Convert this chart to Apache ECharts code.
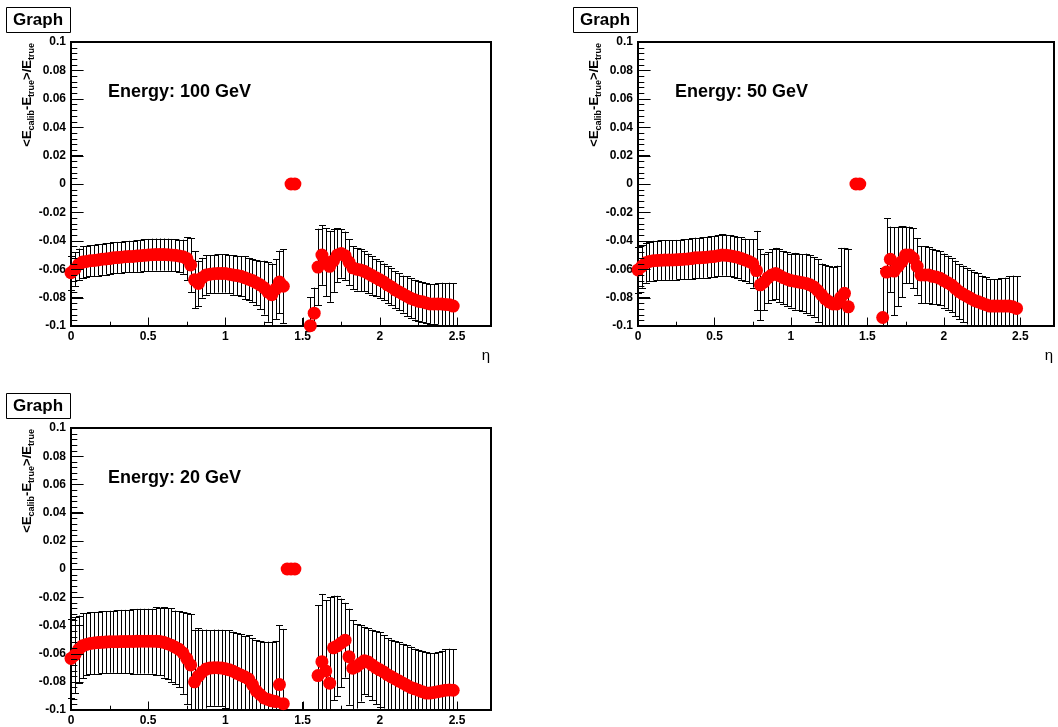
<!DOCTYPE html>
<html><head><meta charset="utf-8">
<script src="https://cdn.jsdelivr.net/npm/echarts@6/dist/echarts.min.js"></script>
<style>html,body{margin:0;padding:0;background:#fff}#c{width:1058px;height:727px}</style>
</head><body><div id="c"></div>
<script>
const logs = [];
window.onerror = function(m){ logs.push('ERR ' + m); };
// eta bin positions
const eta = [0.000,0.025,0.050,0.075,0.100,0.125,0.150,0.175,0.200,0.225,
0.250,0.275,0.300,0.325,0.350,0.375,0.400,0.425,0.450,0.475,
0.500,0.525,0.550,0.575,0.600,0.625,0.650,0.675,0.700,0.725,
0.750,0.775,0.800,0.825,0.850,0.875,0.900,0.925,0.950,0.975,
1.000,1.025,1.050,1.075,1.100,1.125,1.150,1.175,1.200,1.225,
1.250,1.275,1.300,1.325,1.350,1.375,1.400,1.425,1.450,1.475,
1.500,1.525,1.550,1.575,1.600,1.625,1.650,1.675,1.700,1.725,
1.750,1.775,1.800,1.825,1.850,1.875,1.900,1.925,1.950,1.975,
2.000,2.025,2.050,2.075,2.100,2.125,2.150,2.175,2.200,2.225,
2.250,2.275,2.300,2.325,2.350,2.375,2.400,2.425,2.450,2.475];

const val100 = [-0.0625,-0.0600,-0.0565,-0.0550,-0.0545,-0.0540,-0.0538,-0.0535,-0.0530,-0.0528,
-0.0525,-0.0520,-0.0518,-0.0515,-0.0512,-0.0510,-0.0510,-0.0507,-0.0505,-0.0502,
-0.0500,-0.0498,-0.0497,-0.0497,-0.0497,-0.0498,-0.0500,-0.0502,-0.0507,-0.0512,
-0.0525,-0.0570,-0.0675,-0.0700,-0.0660,-0.0640,-0.0635,-0.0632,-0.0630,-0.0630,
-0.0630,-0.0635,-0.0640,-0.0645,-0.0650,-0.0660,-0.0670,-0.0680,-0.0695,-0.0710,
-0.0730,-0.0760,-0.0780,-0.0740,-0.0690,-0.0720,null,0,0,null,
null,null,-0.0998,-0.0910,-0.0585,-0.0500,-0.0550,-0.0580,-0.0540,-0.0500,
-0.0490,-0.0505,-0.0550,-0.0590,-0.0600,-0.0605,-0.0615,-0.0630,-0.0645,-0.0660,
-0.0675,-0.0690,-0.0710,-0.0725,-0.0745,-0.0760,-0.0775,-0.0790,-0.0805,-0.0815,
-0.0825,-0.0830,-0.0838,-0.0845,-0.0845,-0.0845,-0.0845,-0.0848,-0.0850,-0.0860];
const err100 = [0.012,0.012,0.011,0.011,0.011,0.011,0.011,0.011,0.011,0.011,
0.011,0.011,0.011,0.011,0.011,0.011,0.0112,0.0112,0.0112,0.0112,
0.0113,0.0113,0.0113,0.0113,0.0113,0.0113,0.0113,0.0113,0.0115,0.012,
0.015,0.019,0.020,0.016,0.014,0.014,0.0135,0.0135,0.0135,0.0135,
0.0135,0.0135,0.014,0.014,0.014,0.015,0.015,0.015,0.016,0.017,
0.019,0.021,0.022,0.021,0.022,0.026,0,0,0,0,
0,0,0.020,0.018,0.027,0.021,0.024,0.025,0.022,0.019,
0.017,0.017,0.016,0.015,0.015,0.015,0.014,0.014,0.0135,0.013,
0.013,0.013,0.013,0.013,0.013,0.013,0.013,0.014,0.014,0.014,
0.014,0.014,0.014,0.014,0.014,0.0145,0.015,0.015,0.0155,0.016];

const val50 = [-0.0605,-0.0580,-0.0555,-0.0545,-0.0540,-0.0538,-0.0537,-0.0536,-0.0535,-0.0535,
-0.0534,-0.0532,-0.0530,-0.0528,-0.0525,-0.0520,-0.0520,-0.0518,-0.0515,-0.0512,
-0.0510,-0.0505,-0.0500,-0.0502,-0.0505,-0.0510,-0.0515,-0.0525,-0.0535,-0.0545,
-0.0560,-0.0610,-0.0710,-0.0690,-0.0660,-0.0640,-0.0630,-0.0645,-0.0660,-0.0670,
-0.0680,-0.0685,-0.0690,-0.0695,-0.0700,-0.0710,-0.0725,-0.0750,-0.0780,-0.0810,
-0.0830,-0.0845,-0.0845,-0.0800,-0.0770,-0.0865,null,0,0,null,
null,null,null,null,-0.0940,-0.0620,-0.0530,-0.0613,-0.0580,-0.0547,
-0.0500,-0.0500,-0.0523,-0.0580,-0.0640,-0.0640,-0.0640,-0.0650,-0.0655,-0.0664,
-0.0680,-0.0695,-0.0711,-0.0735,-0.0758,-0.0775,-0.0790,-0.0805,-0.0820,-0.0830,
-0.0840,-0.0850,-0.0860,-0.0860,-0.0860,-0.0860,-0.0860,-0.0860,-0.0865,-0.0876];
const err50 = [0.016,0.015,0.014,0.014,0.014,0.014,0.014,0.014,0.014,0.014,
0.014,0.014,0.014,0.014,0.0142,0.0142,0.0143,0.0143,0.0144,0.0145,
0.0145,0.0145,0.0145,0.0145,0.0145,0.0145,0.0145,0.015,0.015,0.0155,
0.017,0.028,0.025,0.020,0.018,0.018,0.018,0.0185,0.0185,0.019,
0.019,0.020,0.020,0.020,0.021,0.021,0.021,0.022,0.022,0.024,
0.025,0.026,0.027,0.035,0.032,0.041,0,0,0,0,
0,0,0,0,0.035,0.038,0.023,0.031,0.028,0.025,
0.020,0.020,0.021,0.020,0.020,0.020,0.0195,0.0195,0.019,0.019,
0.019,0.019,0.019,0.0195,0.0195,0.020,0.020,0.020,0.020,0.020,
0.0195,0.0195,0.019,0.019,0.019,0.0195,0.020,0.021,0.022,0.0226];

const val20 = [-0.0634,-0.0610,-0.0570,-0.0545,-0.0535,-0.0528,-0.0525,-0.0522,-0.0520,-0.0518,
-0.0516,-0.0516,-0.0516,-0.0515,-0.0515,-0.0514,-0.0514,-0.0513,-0.0512,-0.0512,
-0.0512,-0.0512,-0.0513,-0.0515,-0.0520,-0.0530,-0.0540,-0.0555,-0.0570,-0.0595,
-0.0635,-0.0680,-0.0800,-0.0760,-0.0730,-0.0710,-0.0703,-0.0700,-0.0700,-0.0703,
-0.0708,-0.0715,-0.0725,-0.0740,-0.0752,-0.0765,-0.0780,-0.0820,-0.0865,-0.0890,
-0.0915,-0.0925,-0.0935,-0.0940,-0.0820,-0.0955,0,0,0,null,
null,null,null,null,-0.0756,-0.0657,-0.0723,-0.0810,-0.0559,-0.0545,
-0.0525,-0.0505,-0.0622,-0.0704,-0.0690,-0.0670,-0.0650,-0.0660,-0.0680,-0.0700,
-0.0715,-0.0730,-0.0750,-0.0765,-0.0780,-0.0795,-0.0810,-0.0825,-0.0840,-0.0850,
-0.0860,-0.0870,-0.0880,-0.0880,-0.0875,-0.0870,-0.0865,-0.0860,-0.0858,-0.0860];
const err20 = [0.028,0.027,0.024,0.023,0.022,0.022,0.022,0.022,0.022,0.022,
0.022,0.022,0.0225,0.0225,0.0225,0.0225,0.023,0.023,0.023,0.023,
0.023,0.023,0.024,0.024,0.025,0.025,0.026,0.026,0.027,0.029,
0.0325,0.036,0.037,0.034,0.030,0.028,0.027,0.027,0.027,0.0272,
0.0275,0.028,0.028,0.0285,0.029,0.029,0.031,0.033,0.036,0.038,
0.040,0.041,0.042,0.043,0.042,0.053,0,0,0,0,
0,0,0,0,0.050,0.048,0.050,0.061,0.037,0.0355,
0.0315,0.0265,0.034,0.034,0.030,0.027,0.024,0.024,0.025,0.026,
0.0265,0.026,0.026,0.0265,0.027,0.0275,0.028,0.0285,0.029,0.0285,
0.0285,0.029,0.029,0.0285,0.028,0.028,0.0285,0.029,0.0293,0.029];

const energyLabels = ['Energy: 100 GeV','Energy: 50 GeV','Energy: 20 GeV'];
const xMajorTicks = [0, 0.5, 1, 1.5, 2, 2.5];
const xMinorTicks = [0.25, 0.75, 1.25, 1.75, 2.25];
const yMajorTicks = [-0.1, -0.08, -0.06, -0.04, -0.02, 0, 0.02, 0.04, 0.06, 0.08, 0.1];
const Y_MINOR_DIV = 5;
const X_MIN = 0, X_MAX = 2.72, Y_MIN = -0.1, Y_MAX = 0.1;

const FONT = '"Liberation Sans", Arial, Helvetica, sans-serif';
const panels = [
  {vals: val100, errs: err100, label: energyLabels[0], left: 71, top: 42, width: 420, height: 284, showEta: true},
  {vals: val50,  errs: err50,  label: energyLabels[1], left: 638, top: 42, width: 416, height: 284, showEta: true},
  {vals: val20,  errs: err20,  label: energyLabels[2], left: 71, top: 428, width: 420, height: 284, showEta: false}
];

function fmtY(v){ return String(Number(v.toFixed(3))); }
function fmtX(v){ const r = Number(v.toFixed(3)); return xMajorTicks.indexOf(r) >= 0 ? String(r) : ''; }

// tick rows: [x, y, length, isY]
function buildTicks(){
  const rows = [];
  xMajorTicks.forEach(v => rows.push([v, Y_MIN, 8.5, 0]));
  xMinorTicks.forEach(v => rows.push([v, Y_MIN, 4.3, 0]));
  yMajorTicks.forEach((v, i) => {
    rows.push([X_MIN, v, 12.6, 1]);
    if (i < yMajorTicks.length - 1) {
      const step = (yMajorTicks[i + 1] - v) / Y_MINOR_DIV;
      for (let j = 1; j < Y_MINOR_DIV; j++) rows.push([X_MIN, v + j * step, 6.3, 1]);
    }
  });
  return rows;
}
let tickCalls = 0, barCalls = 0;

const grids = [], xAxes = [], yAxes = [], series = [], graphics = [];
panels.forEach((p, k) => {
  grids.push({left: p.left, top: p.top, width: p.width, height: p.height, show: true,
    borderColor: '#000', borderWidth: 2});
  xAxes.push({gridIndex: k, type: 'value', min: X_MIN, max: X_MAX, interval: 0.5,
    axisLine: {show: false, onZero: false}, splitLine: {show: false},
    axisTick: {show: true, inside: true, length: 8, lineStyle: {color: '#000', width: 1}},
    axisLabel: {show: true, showMaxLabel: false, margin: 5, color: '#000', fontWeight: 'bold', fontSize: 12, fontFamily: FONT, formatter: fmtX}
  });
  yAxes.push({gridIndex: k, type: 'value', min: Y_MIN, max: Y_MAX, interval: 0.02,
    axisLine: {show: false, onZero: false}, splitLine: {show: false},
    axisTick: {show: true, inside: true, length: 12, lineStyle: {color: '#000', width: 1}},
    axisLabel: {show: true, margin: 5, color: '#000', fontWeight: 'bold', fontSize: 12, fontFamily: FONT, formatter: fmtY}
  });
  const pts = [], bars = [];
  eta.forEach((x, i) => {
    if (p.vals[i] === null) return;
    pts.push([x, p.vals[i]]);
    bars.push([x, p.vals[i], p.errs[i]]);
  });
  series.push({type: 'custom', xAxisIndex: k, yAxisIndex: k, clip: false, z: 2,
    data: bars,
    renderItem: function (params, api) {
      barCalls++;
      const x = api.value(0), v = api.value(1), e = api.value(2);
      if (!e) return null;
      const hi = Math.min(v + e, Y_MAX), lo = Math.max(v - e, Y_MIN);
      const t = api.coord([x, hi]), b = api.coord([x, lo]);
      const cx = Math.round(t[0]) + 0.5, c = 3.5;
      const st = {stroke: '#000', lineWidth: 1};
      const ch = [{type: 'line', shape: {x1: cx, y1: t[1], x2: cx, y2: b[1]}, style: st}];
      if (v + e <= Y_MAX) ch.push({type: 'line', shape: {x1: cx - c, y1: Math.round(t[1]) + 0.5, x2: cx + c, y2: Math.round(t[1]) + 0.5}, style: st});
      if (v - e >= Y_MIN) ch.push({type: 'line', shape: {x1: cx - c, y1: Math.round(b[1]) + 0.5, x2: cx + c, y2: Math.round(b[1]) + 0.5}, style: st});
      return {type: 'group', children: ch};
    }
  });
  series.push({type: 'scatter', xAxisIndex: k, yAxisIndex: k, clip: false, z: 3,
    symbol: 'circle', symbolSize: 13, itemStyle: {color: '#ff0000', opacity: 1}, data: pts});
  series.push({type: 'custom', xAxisIndex: k, yAxisIndex: k, clip: false, z: 5,
    data: buildTicks(),
    renderItem: function (params, api) {
      tickCalls++;
      const isY = api.value(3) === 1, len = api.value(2);
      const pt = api.coord([api.value(0), api.value(1)]);
      const st = {stroke: '#000', lineWidth: 1};
      if (!isY) {
        const x = Math.round(pt[0]) + 0.5;
        return {type: 'line', shape: {x1: x, y1: pt[1], x2: x, y2: pt[1] - len}, style: st};
      }
      const y = Math.round(pt[1]) + 0.5;
      return {type: 'line', shape: {x1: pt[0], y1: y, x2: pt[0] + len, y2: y}, style: st};
    }
  });

  const dx = p.left - 71, dy = p.top - 42;
  graphics.push({type: 'rect', shape: {x: 6 + dx + 0.5, y: 7 + dy + 0.5, width: 64, height: 25},
    style: {fill: '#fff', stroke: '#000', lineWidth: 1}, z: 10});
  graphics.push({type: 'text', x: 38 + dx, y: 20 + dy, z: 11,
    style: {text: 'Graph', fill: '#000', font: 'bold 17px ' + FONT, textAlign: 'center', textVerticalAlign: 'middle'}});
  graphics.push({type: 'text', x: 108 + dx, y: 92 + dy, z: 11,
    style: {text: p.label, fill: '#000', font: 'bold 18px ' + FONT, textAlign: 'left', textVerticalAlign: 'middle'}});
  graphics.push({type: 'text', x: 27 + dx, y: 43 + dy, rotation: Math.PI / 2, z: 11,
    style: {text: '{m|<E}{s|calib}{m|-E}{s|true}{m|>/E}{s|true}', align: 'right', verticalAlign: 'middle',
      rich: {
        m: {fontSize: 13, fontWeight: 'bold', fontFamily: FONT, fill: '#000', lineHeight: 19, verticalAlign: 'middle'},
        s: {fontSize: 9, fontWeight: 'bold', fontFamily: FONT, fill: '#000', lineHeight: 9, verticalAlign: 'bottom'}
      }}});
  if (p.showEta) {
    graphics.push({type: 'text', x: p.left + p.width - 1, y: 356 + dy, z: 11,
      style: {text: 'η', fill: '#000', font: '15px ' + FONT, textAlign: 'right', textVerticalAlign: 'middle'}});
  }
});

const chart = echarts.init(document.getElementById('c'));
try {
  chart.setOption({animation: false, grid: grids, xAxis: xAxes, yAxis: yAxes, series: series, graphic: graphics});
} catch (e) { logs.push('EXC ' + e.message); }
const displayList = chart.getZr().storage.getDisplayList(true);
logs.push('display ' + displayList.length);
</script>
</body></html>
